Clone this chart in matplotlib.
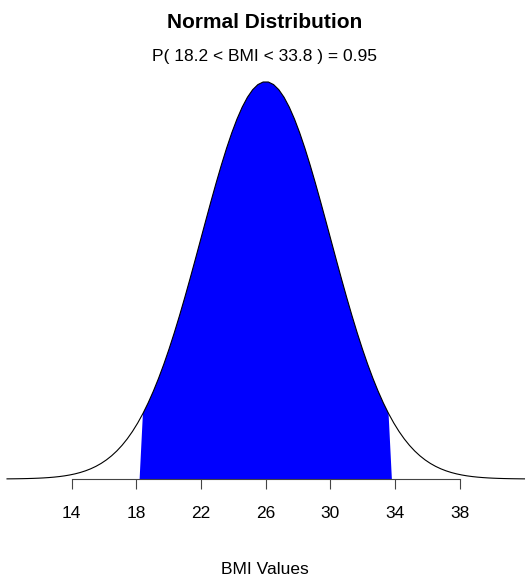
import numpy as np
import matplotlib.pyplot as plt

# distribution parameters
mean = 26
sd = 4
lower = 18.2
upper = 33.8
prob = 0.95
n_points = 100
ticks = [14, 18, 22, 26, 30, 34, 38]

plt.rcParams["font.family"] = ["Liberation Sans", "DejaVu Sans"]

# density curve over mean +/- 4 sd
x = np.linspace(-4, 4, n_points) * sd + mean
hx = np.exp(-0.5 * ((x - mean) / sd) ** 2) / (sd * np.sqrt(2 * np.pi))

W, H = 529, 582
fig = plt.figure(figsize=(W / 100, H / 100), dpi=100)

# axes placed so that data 0 sits on the baseline and the peak at the top
ax = fig.add_axes([0, 1 - 479 / H, 1, (479 - 82) / H])
px_per_unit = 16.17
ax.set_xlim(14 - 71.7 / px_per_unit, 14 + (W - 71.7) / px_per_unit)
ax.set_ylim(0, hx.max())

# shaded region between the bounds
inside = (x >= lower) & (x <= upper)
px = np.concatenate([[lower], x[inside], [upper]])
py = np.concatenate([[0], hx[inside], [0]])
ax.fill(px, py, color="#0000FF", linewidth=0, clip_on=False)

ax.plot(x, hx, color="black", linewidth=0.8, clip_on=False)

# axis
for s in ["top", "left", "right"]:
    ax.spines[s].set_visible(False)
ax.spines["bottom"].set_bounds(ticks[0], ticks[-1])
ax.spines["bottom"].set_linewidth(0.8)
ax.spines["bottom"].set_color("#444444")
ax.set_yticks([])
ax.set_xticks(ticks)
ax.set_xticklabels([str(t) for t in ticks])
ax.tick_params(axis="x", length=7.5, width=0.8, color="#444444",
               pad=12, labelsize=12.5)

fig.text(0.5, 1 - 23 / H, "Normal Distribution", ha="center", va="center",
         fontsize=15, fontweight="bold")
fig.text(0.5, 1 - 57 / H, f"P( {lower} < BMI < {upper} ) = {prob}",
         ha="center", va="center", fontsize=12.5)
fig.text(0.5, 1 - 570 / H, "BMI Values", ha="center", va="center",
         fontsize=12.5)

fig.savefig("out.png", dpi=100)
